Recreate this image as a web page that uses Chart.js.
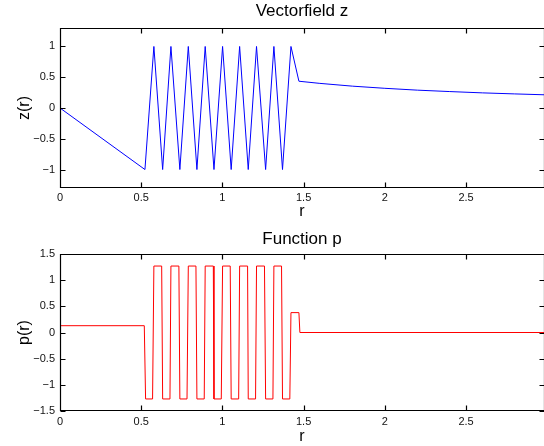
<!DOCTYPE html>
<html>
<head>
<meta charset="utf-8">
<script src="https://cdn.jsdelivr.net/npm/chart.js@4.4.1/dist/chart.umd.min.js"></script>
<style>
  body { margin: 0; background: #fff; }
  .plot { position: absolute; left: 0; width: 544px; }
</style>
</head>
<body>
<div class="plot" style="top:0;height:220px"><canvas id="zChart"></canvas></div>
<div class="plot" style="top:220px;height:226px"><canvas id="pChart"></canvas></div>
<script>
// vector field z(r)
const zR = [0, 0.523, 0.578, 0.632, 0.683, 0.738, 0.790, 0.843, 0.894, 0.948, 1.001,
  1.054, 1.106, 1.159, 1.210, 1.266, 1.317, 1.370, 1.422, 1.471,
  1.6, 1.8, 2.0, 2.2, 2.4, 2.6, 2.8, 2.98];
const zVal = [0, -1, 1, -1, 1, -1, 1, -1, 1, -1, 1,
  -1, 1, -1, 1, -1, 1, -1, 1, 0.435,
  0.40, 0.355, 0.32, 0.29, 0.267, 0.246, 0.229, 0.215];

// function p(r)
const pR = [0, 0.519, 0.527, 0.570, 0.578, 0.626, 0.632, 0.677, 0.683, 0.732, 0.738,
  0.782, 0.790, 0.837, 0.843, 0.888, 0.894, 0.944, 0.948, 0.993, 1.001,
  1.048, 1.054, 1.100, 1.106, 1.155, 1.159, 1.204, 1.210, 1.259, 1.266,
  1.311, 1.317, 1.364, 1.370, 1.415, 1.422, 1.471, 1.477, 2.98];
const pVal = [0.13, 0.13, -1.27, -1.27, 1.27, 1.27, -1.27, -1.27, 1.27, 1.27, -1.27,
  -1.27, 1.27, 1.27, -1.27, -1.27, 1.27, 1.27, -1.27, -1.27, 1.27,
  1.27, -1.27, -1.27, 1.27, 1.27, -1.27, -1.27, 1.27, 1.27, -1.27,
  -1.27, 1.27, 1.27, -1.27, -1.27, 0.38, 0.38, 0, 0];

const rTicks = [0, 0.5, 1, 1.5, 2, 2.5];
const zTicks = [-1, -0.5, 0, 0.5, 1];
const pTicks = [-1.5, -1, -0.5, 0, 0.5, 1, 1.5];

const FONT = '"Liberation Sans", Arial, Helvetica, sans-serif';

const fmt = v => (v < 0 ? '\u2212' + Math.abs(v) : String(v));

// matlab style box with inward ticks on all four sides
const boxTicks = {
  id: 'boxTicks',
  afterDatasetsDraw(chart) {
    const { ctx, chartArea: a, scales: { x, y } } = chart;
    const L = Math.round(a.left) + 0.5, R = Math.round(a.right) + 0.5;
    const T = Math.round(a.top) + 0.5, B = Math.round(a.bottom) - 0.5;
    const len = 5;
    ctx.save();
    ctx.strokeStyle = '#000';
    ctx.lineWidth = 1.2;
    ctx.beginPath();
    ctx.rect(L, T, R - L, B - T);
    x.ticks.forEach(t => {
      const px = Math.round(x.getPixelForValue(t.value)) + 0.5;
      ctx.moveTo(px, B); ctx.lineTo(px, B - len);
      ctx.moveTo(px, T); ctx.lineTo(px, T + len);
    });
    y.ticks.forEach(t => {
      const py = Math.round(y.getPixelForValue(t.value)) + 0.5;
      ctx.moveTo(L, py); ctx.lineTo(L + len, py);
      ctx.moveTo(R, py); ctx.lineTo(R - len, py);
    });
    ctx.stroke();
    ctx.restore();
  }
};

function makeChart(id, xs, ys, color, opts) {
  const pts = xs.map((r, i) => ({ x: r, y: ys[i] }));
  return new Chart(document.getElementById(id), {
    type: 'line',
    data: {
      datasets: [{
        data: pts,
        borderColor: color,
        borderWidth: 1,
        pointRadius: 0,
        tension: 0,
        fill: false
      }]
    },
    options: {
      responsive: true,
      maintainAspectRatio: false,
      animation: false,
      layout: { padding: 0 },
      plugins: {
        legend: { display: false },
        tooltip: { enabled: false },
        title: {
          display: true,
          fullSize: false, // center over the plot box, not the whole canvas
          text: opts.title,
          color: '#000',
          font: { family: FONT, size: 17, weight: 'normal', lineHeight: 1.2 },
          padding: opts.titlePad
        }
      },
      scales: {
        x: {
          type: 'linear',
          min: 0,
          max: 2.98,
          afterBuildTicks: s => { s.ticks = rTicks.map(v => ({ value: v })); },
          afterFit: s => { s.height = opts.xHeight; },
          grid: { display: false, drawTicks: false },
          border: { display: false },
          ticks: {
            autoSkip: false,
            maxRotation: 0,
            padding: opts.xTickPad,
            color: '#111',
            font: { family: FONT, size: 11 },
            callback: fmt
          },
          title: {
            display: true,
            text: 'r',
            color: '#000',
            font: { family: FONT, size: 16, lineHeight: 1 },
            padding: { top: 0, bottom: opts.xTitlePad }
          }
        },
        y: {
          min: opts.yMin,
          max: opts.yMax,
          afterBuildTicks: s => { s.ticks = opts.yTicks.map(v => ({ value: v })); },
          afterFit: s => { s.width = 60; },
          grid: { display: false, drawTicks: false },
          border: { display: false },
          ticks: {
            autoSkip: false,
            padding: 5,
            color: '#111',
            font: { family: FONT, size: 11 },
            callback: fmt
          },
          title: {
            display: true,
            text: opts.yLabel,
            color: '#000',
            font: { family: FONT, size: 16, lineHeight: 1.2 },
            padding: { top: 15, bottom: 0 }
          }
        }
      }
    },
    plugins: [boxTicks]
  });
}

makeChart('zChart', zR, zVal, '#0000ff', {
  title: 'Vectorfield z',
  titlePad: { top: 1.5, bottom: 6.1 },
  yLabel: 'z(r)',
  yMin: -1.3, yMax: 1.3, yTicks: zTicks,
  xHeight: 32, xTickPad: 3, xTitlePad: 0
});

makeChart('pChart', pR, pVal, '#ff0000', {
  title: 'Function p',
  titlePad: { top: 9, bottom: 4.6 },
  yLabel: 'p(r)',
  yMin: -1.5, yMax: 1.5, yTicks: pTicks,
  xHeight: 35, xTickPad: 4, xTitlePad: 1
});
</script>
</body>
</html>
